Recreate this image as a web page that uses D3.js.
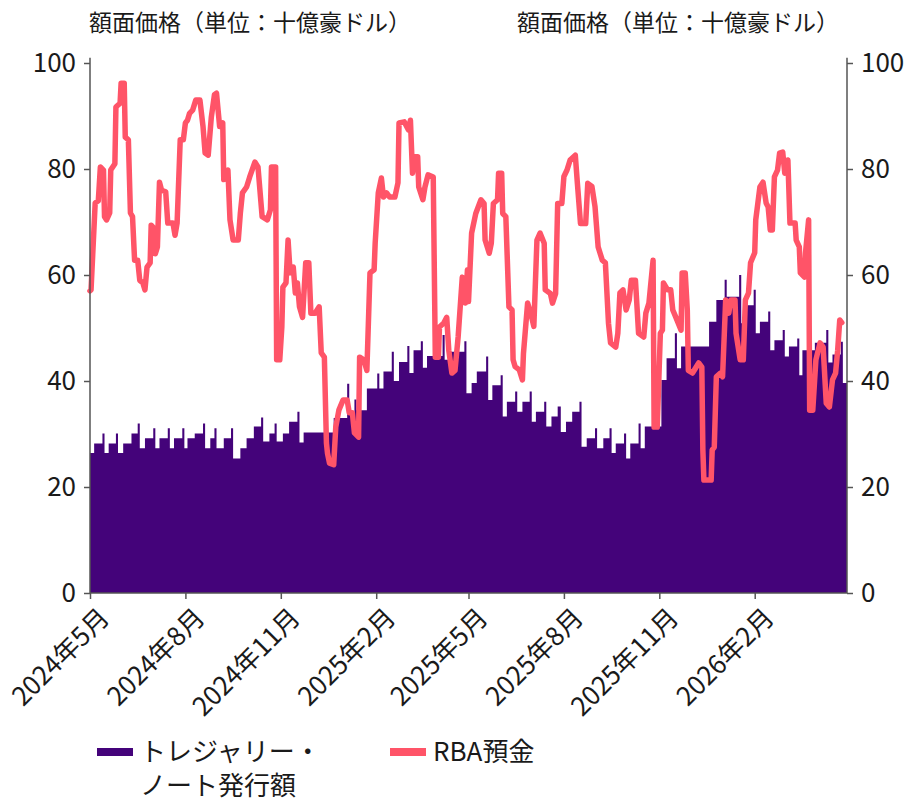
<!DOCTYPE html>
<html>
<head>
<meta charset="utf-8">
<script src="https://cdn.jsdelivr.net/npm/d3@7"></script>
<style>
  body { margin: 0; background: #fff; }
  text { font-family: "Noto Sans CJK JP", "Noto Sans", sans-serif; fill: #1a1a1a; }
</style>
</head>
<body>
<svg id="chart" width="907" height="802"></svg>
<script>
// days are counted from 2024-05-01
const startDate = new Date(2024, 4, 1)
const endDate = new Date(2026, 4, 1)

const tickMonths = ["2024-05", "2024-08", "2024-11", "2025-02", "2025-05", "2025-08", "2025-11", "2026-02"]
const yTicks = [0, 20, 40, 60, 80, 100]

const noteDays = [0, 4, 12, 14, 18, 25, 27, 32, 40, 46, 48, 53, 61, 63, 67, 75, 77, 81, 89, 91, 94, 101, 109, 111, 116, 120, 122, 129, 136, 138, 145, 151, 158, 165, 167, 173, 178, 180, 186, 192, 200, 202, 206, 235, 248, 250, 255, 257, 267, 277, 279, 283, 291, 293, 298, 306, 308, 312, 319, 321, 325, 340, 342, 347, 361, 363, 368, 373, 382, 384, 388, 396, 398, 402, 410, 412, 417, 424, 426, 430, 438, 440, 445, 451, 454, 459, 465, 472, 474, 479, 487, 489, 495, 501, 503, 507, 515, 517, 521, 529, 531, 535, 551, 556, 564, 566, 570, 597, 604, 612, 614, 626, 628, 632, 640, 642, 646, 654, 656, 660, 668, 670, 674, 682, 684, 687, 699, 710, 712, 716, 724, 726, 730]
const noteValues = [26.4, 28.2, 30.1, 26.4, 28.2, 30.1, 26.4, 28.2, 30.1, 32, 27.3, 29.2, 31.1, 27.3, 29.2, 31.1, 27.3, 29.2, 31.1, 27.3, 29.2, 30.1, 32, 27.3, 29.2, 31.1, 27.3, 29.2, 31.1, 25.4, 27.3, 29.2, 31.4, 33.1, 28.6, 30.1, 32, 28.6, 30.1, 32.3, 34.2, 28.4, 30.3, 33, 39.5, 34, 36.5, 34.5, 38.6, 41.4, 38.6, 41.8, 45.5, 40, 43.6, 46.6, 41.5, 45.8, 47.5, 42.5, 44.7, 48.7, 44, 45.5, 47.5, 37.7, 39.6, 41.8, 44.6, 36.4, 39.2, 41.1, 33.3, 36.1, 38, 34.2, 36.1, 38, 32.3, 34.2, 36.1, 31.4, 33.3, 35.2, 30.4, 32.3, 34.2, 36.1, 27.6, 29.2, 31.1, 27.3, 29.2, 31.1, 26.4, 28.2, 30.1, 25.4, 28.2, 32, 27.3, 31.4, 40.2, 44.3, 49, 42.4, 46.5, 51.2, 55.3, 59.1, 55.9, 60, 50.9, 54.3, 57.2, 49, 51.2, 53.1, 45.8, 47.7, 49.6, 44.6, 46.5, 48, 41.1, 45.8, 47.2, 49.6, 43.5, 45, 47.4, 39.6, 39.6]

const rbaDays = [0, 1, 5, 8, 10, 13, 14, 16, 19, 20, 24, 25, 29, 30, 33, 34, 37, 39, 41, 43, 46, 48, 51, 53, 55, 58, 59, 61, 63, 65, 67, 69, 73, 75, 80, 82, 84, 87, 90, 92, 94, 96, 99, 102, 106, 109, 111, 114, 117, 120, 122, 125, 128, 129, 133, 135, 138, 143, 145, 147, 151, 154, 159, 162, 166, 171, 174, 175, 179, 180, 183, 185, 186, 189, 191, 193, 196, 198, 200, 202, 205, 208, 211, 213, 217, 221, 223, 226, 228, 229, 231, 235, 237, 240, 244, 248, 250, 253, 255, 259, 260, 264, 267, 270, 274, 275, 278, 281, 283, 286, 289, 294, 297, 298, 303, 307, 309, 311, 313, 316, 317, 321, 323, 326, 331, 333, 336, 337, 341, 344, 346, 349, 352, 355, 359, 362, 364, 365, 368, 372, 377, 380, 381, 385, 387, 389, 393, 394, 397, 398, 401, 404, 407, 408, 410, 414, 417, 418, 422, 425, 428, 431, 434, 438, 439, 444, 446, 449, 451, 455, 457, 460, 463, 468, 470, 473, 478, 480, 484, 487, 490, 494, 497, 500, 502, 507, 509, 511, 514, 517, 520, 522, 526, 529, 534, 536, 539, 543, 544, 547, 550, 552, 553, 557, 560, 562, 565, 570, 571, 574, 576, 577, 581, 587, 590, 591, 592, 599, 600, 602, 604, 608, 610, 613, 616, 618, 622, 623, 627, 630, 632, 635, 637, 641, 642, 646, 649, 652, 654, 656, 658, 660, 663, 665, 668, 670, 673, 675, 680, 681, 684, 685, 689, 690, 693, 694, 697, 700, 704, 707, 710, 713, 716, 719, 721, 723, 725]
const rbaValues = [57, 57.2, 73.6, 74, 80.4, 79.8, 71, 70.4, 71.7, 79.8, 81, 91.7, 92.4, 96.2, 96.2, 86, 85.5, 71.7, 71, 62.8, 62.8, 59, 58.5, 57.2, 61.5, 62.3, 69.4, 69, 64, 65.3, 77.5, 76, 75.7, 69.8, 69.8, 67.5, 69.8, 85.5, 85.5, 88.7, 89.2, 90.5, 91.1, 93, 93, 88, 83, 82.6, 89.8, 94, 94.3, 88, 88.7, 78, 79.8, 70.4, 66.6, 66.6, 71.7, 75.5, 76.6, 78.5, 81.3, 80.4, 71, 70.4, 72.3, 80.4, 80.4, 44, 44, 50.2, 57.7, 58.5, 66.6, 60.4, 61.5, 56.6, 58.5, 54, 52, 62.3, 62.3, 52.8, 52.8, 54, 45.3, 44.5, 28.3, 26.4, 24.5, 24.2, 31.3, 34.5, 36.4, 36.4, 34, 34, 30.2, 29.4, 44.5, 44, 42, 60.4, 61, 66, 75.5, 78.3, 74.7, 75.5, 74.7, 74.7, 77.4, 88.7, 88.9, 87.4, 89.2, 79.2, 82.3, 82.3, 76.6, 74.2, 76.6, 78.9, 78.5, 44.5, 44.5, 50.2, 50.9, 52, 45.8, 41.5, 42, 48.3, 59.6, 54.7, 61, 55, 67.9, 71.6, 74.2, 73.5, 66.6, 64.1, 66, 73.5, 74.2, 79.2, 79.2, 71.6, 71, 54, 53.4, 44, 42.7, 42.1, 40.2, 45.2, 54.7, 52.8, 50.3, 66.6, 67.9, 66, 57.2, 56.5, 54.7, 56.5, 73.5, 73.5, 78.6, 79.8, 81.7, 82.6, 77.3, 69.7, 69.7, 77.3, 76.7, 72.9, 65.3, 62.8, 62.3, 50.9, 47.2, 46.4, 49, 56.6, 57.2, 53.4, 55.3, 59, 59, 49, 48.3, 52.8, 54.7, 62.8, 31.3, 31.3, 49, 49.6, 58.5, 57.2, 57.2, 53.4, 52, 49.6, 60.4, 60.4, 53.4, 42, 41.5, 43.4, 42.6, 27, 21.3, 21.3, 27, 27.5, 40.8, 41.5, 40.8, 55.3, 52.8, 55.3, 55.3, 49, 44, 44, 55.3, 56.6, 62.3, 64.2, 70.4, 76.6, 77.5, 73.6, 72.8, 68.5, 68.5, 78.5, 79.8, 83, 83.2, 79.2, 81.7, 69.8, 69.8, 66.6, 65.3, 60.4, 59.6, 64.2, 70.4, 34.5, 34.5, 44, 47.2, 46.4, 35.8, 35.1, 40.2, 41.5, 45.8, 51.5, 51]

const axisTitle = "額面価格（単位：十億豪ドル）"
const seriesNames = [["トレジャリー・", "ノート発行額"], ["RBA預金"]]
const colors = ["#44037a", "#ff5468"]

const svg = d3.select("#chart")

const x = d3.scaleTime()
    .domain([startDate, endDate])
    .range([90, 847])

const y = d3.scaleLinear()
    .domain([0, 100])
    .range([593, 63])

const toDate = d => d3.timeDay.offset(startDate, d)

const notes = noteDays.map((d, i) => ({ date: toDate(d), value: noteValues[i] }))
const rba = rbaDays.map((d, i) => ({ date: toDate(d), value: rbaValues[i] }))

// notes area (step)
svg.append("path")
    .datum(notes)
    .attr("fill", colors[0])
    .attr("d", d3.area()
        .curve(d3.curveStepAfter)
        .x(d => x(d.date))
        .y0(y(0))
        .y1(d => y(d.value)))

// RBA deposits line
svg.append("path")
    .datum(rba)
    .attr("fill", "none")
    .attr("stroke", colors[1])
    .attr("stroke-width", 5.5)
    .attr("stroke-linejoin", "round")
    .attr("stroke-linecap", "round")
    .attr("d", d3.line()
        .x(d => x(d.date))
        .y(d => y(d.value)))

// axes
const axisColor = "#555"
const tickFont = 26

const left = svg.append("g")
    .attr("transform", `translate(${x.range()[0]},0)`)
    .call(d3.axisLeft(y).tickValues(yTicks).tickSize(6).tickSizeOuter(0).tickPadding(8))
const right = svg.append("g")
    .attr("transform", `translate(${x.range()[1]},0)`)
    .call(d3.axisRight(y).tickValues(yTicks).tickSize(6).tickSizeOuter(0).tickPadding(8))

const tickDates = tickMonths.map(m => d3.timeParse("%Y-%m")(m))
const bottom = svg.append("g")
    .attr("transform", `translate(0,${y(0)})`)
    .call(d3.axisBottom(x).tickValues(tickDates).tickSize(6).tickSizeOuter(0)
        .tickFormat(d => `${d.getFullYear()}年${d.getMonth() + 1}月`))

for (const g of [left, right, bottom]) {
    g.select(".domain").remove()
    g.selectAll(".tick line").attr("stroke", axisColor).attr("stroke-width", 1.5)
    g.selectAll(".tick text").attr("font-size", tickFont).attr("fill", "#1a1a1a")
        .attr("font-family", "'Noto Sans CJK JP', sans-serif")
}

bottom.selectAll(".tick text")
    .attr("text-anchor", "end")
    .attr("x", 0).attr("y", 0).attr("dy", "0.35em")
    .attr("transform", "translate(14,20) rotate(-45)")

// axis lines
svg.append("line")
    .attr("x1", x.range()[0]).attr("x2", x.range()[0])
    .attr("y1", y(0)).attr("y2", y(101))
    .attr("stroke", axisColor).attr("stroke-width", 1.5)
svg.append("line")
    .attr("x1", x.range()[1]).attr("x2", x.range()[1])
    .attr("y1", y(0)).attr("y2", y(101))
    .attr("stroke", axisColor).attr("stroke-width", 1.5)
svg.append("line")
    .attr("x1", x.range()[0]).attr("x2", x.range()[1])
    .attr("y1", y(0)).attr("y2", y(0))
    .attr("stroke", axisColor).attr("stroke-width", 1.5)

// titles
svg.append("text").attr("x", 250).attr("y", 31)
    .attr("text-anchor", "middle").attr("font-size", 23).text(axisTitle)
svg.append("text").attr("x", 678).attr("y", 31)
    .attr("text-anchor", "middle").attr("font-size", 23).text(axisTitle)

// legend
const legendX = [97, 390]
seriesNames.forEach((lines, i) => {
    const g = svg.append("g").attr("transform", `translate(${legendX[i]},752)`)
    g.append("rect").attr("x", 0).attr("y", -4).attr("width", 36).attr("height", 8)
        .attr("fill", colors[i])
    lines.forEach((line, j) => {
        g.append("text").attr("x", 43).attr("y", j * 34)
            .attr("dy", "0.35em").attr("font-size", 26).text(line)
    })
})
</script>
</body>
</html>
